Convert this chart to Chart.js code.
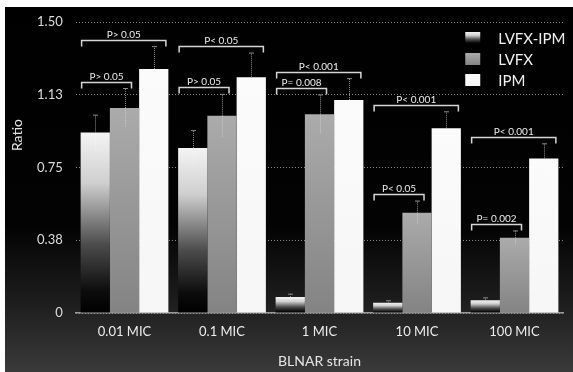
<!DOCTYPE html>
<html>
<head>
<meta charset="utf-8">
<script src="https://cdn.jsdelivr.net/npm/chart.js@4"></script>
<style>
  html, body { margin: 0; padding: 0; background: #fff; overflow: hidden; }
  canvas { display: block; }
</style>
</head>
<body>
<canvas id="c" width="573" height="372"></canvas>
<script>
// Categories and series
const categories = ['0.01 MIC', '0.1 MIC', '1 MIC', '10 MIC', '100 MIC'];
const seriesNames = ['LVFX-IPM', 'LVFX', 'IPM'];

// Mean ratio per concentration
const lvfxIpm = [0.93, 0.85, 0.082, 0.053, 0.066];
const lvfx    = [1.057, 1.017, 1.024, 0.517, 0.388];
const ipm     = [1.258, 1.215, 1.098, 0.952, 0.797];

// Error (upper whisker length) per bar
const lvfxIpmErr = [0.09, 0.09, 0.015, 0.01, 0.012];
const lvfxErr    = [0.10, 0.11, 0.10, 0.06, 0.035];
const ipmErr     = [0.115, 0.125, 0.11, 0.085, 0.075];

// Y axis ticks
const yTickValues = [0, 0.375, 0.75, 1.125, 1.5];
const yTickLabels = ['0', '0.38', '0.75', '1.13', '1.50'];

// Significance comparisons: LVFX-IPM against series index in comparisonTo
const comparisonCategory = [0, 0, 1, 1, 2, 2, 3, 3, 4, 4];
const comparisonTo       = [1, 2, 1, 2, 1, 2, 1, 2, 1, 2];
const comparisonLabels   = ['P> 0.05', 'P> 0.05', 'P> 0.05', 'P< 0.05', 'P= 0.008',
                            'P< 0.001', 'P< 0.05', 'P< 0.001', 'P= 0.002', 'P< 0.001'];

const FONT = 'Lato, "Open Sans", sans-serif';
const errors = [lvfxIpmErr, lvfxErr, ipmErr];

const fillStops = [
  [[0, '#f4f4f4'], [0.28, '#cfcfcf'], [0.62, '#4c4c4c'], [0.88, '#0c0c0c'], [1, '#000']],
  [[0, '#ababab'], [1, '#838383']],
  [[0, '#fbfbfb'], [1, '#f6f6f6']]
];

function gradientFor(ctx2d, idx, top, bottom) {
  const g = ctx2d.createLinearGradient(0, top, 0, Math.max(bottom, top + 1));
  fillStops[idx].forEach(([o, c]) => g.addColorStop(o, c));
  return g;
}

function barFill(idx) {
  return (ctx) => {
    const ch = ctx.chart;
    if (ctx.type !== 'data' || !ch.chartArea) return fillStops[idx][0][1];
    const y = ch.scales.y;
    return gradientFor(ch.ctx, idx, y.getPixelForValue(ctx.raw), y.getPixelForValue(0));
  };
}

// Panel background: white frame with dark gradient card
const backdrop = {
  id: 'backdrop',
  beforeDraw(chart) {
    const { ctx, width, height } = chart;
    ctx.save();
    ctx.fillStyle = '#ffffff';
    ctx.fillRect(0, 0, width, height);
    const g = ctx.createLinearGradient(0, 7, 0, height);
    g.addColorStop(0, '#000000');
    g.addColorStop(0.6, '#030303');
    g.addColorStop(0.8, '#1c1c1c');
    g.addColorStop(1, '#3a3a3a');
    ctx.fillStyle = g;
    ctx.fillRect(5, 7, width - 5, height - 7);
    ctx.restore();
  }
};

// Error whiskers
const whiskers = {
  id: 'whiskers',
  afterDatasetsDraw(chart) {
    const { ctx } = chart;
    const y = chart.scales.y;
    ctx.save();
    chart.data.datasets.forEach((ds, i) => {
      const meta = chart.getDatasetMeta(i);
      meta.data.forEach((bar, j) => {
        const v = ds.data[j], e = errors[i][j];
        const yTop = y.getPixelForValue(v + e);
        const yBar = y.getPixelForValue(v);
        const yLow = y.getPixelForValue(Math.max(0, v - e));
        const x = Math.round(bar.x) + 0.5;
        ctx.lineWidth = 1;
        ctx.setLineDash([1, 1]);
        ctx.strokeStyle = 'rgba(255,255,255,0.35)';
        ctx.beginPath(); ctx.moveTo(x, yBar); ctx.lineTo(x, yLow); ctx.stroke();
        ctx.strokeStyle = '#8e8e8e';
        ctx.beginPath(); ctx.moveTo(x, yBar); ctx.lineTo(x, yTop); ctx.stroke();
        ctx.setLineDash([]);
        ctx.beginPath(); ctx.moveTo(x - 2.5, yTop); ctx.lineTo(x + 2.5, yTop); ctx.stroke();
      });
    });
    ctx.restore();
  }
};

// Significance brackets with p-value labels
const brackets = {
  id: 'brackets',
  afterDatasetsDraw(chart) {
    const { ctx } = chart;
    const y = chart.scales.y;
    ctx.save();
    comparisonCategory.forEach((c, k) => {
      const b = comparisonTo[k];
      const bar0 = chart.getDatasetMeta(0).data[c];
      const barB = chart.getDatasetMeta(b).data[c];
      let top = Infinity;
      for (let s = 0; s <= b; s++) {
        const v = chart.data.datasets[s].data[c] + errors[s][c];
        top = Math.min(top, y.getPixelForValue(v));
      }
      top = Math.round(top - 7) + 0.5;
      const left = bar0.x - bar0.width / 2 + 1;
      const right = b === 1 ? barB.x + 7 : barB.x + barB.width / 2 - 2.5;
      ctx.strokeStyle = '#d6d6d6';
      ctx.lineWidth = 1.5;
      ctx.beginPath();
      ctx.moveTo(left, top + 6);
      ctx.lineTo(left, top);
      ctx.lineTo(right, top);
      ctx.lineTo(right, top + 6);
      ctx.stroke();
      ctx.fillStyle = '#eeeeee';
      ctx.font = '10px ' + FONT;
      ctx.textAlign = 'center';
      ctx.textBaseline = 'alphabetic';
      ctx.fillText(comparisonLabels[k], (left + right) / 2, top - 3);
    });
    ctx.restore();
  }
};

// Legend and y-axis title
const annotations = {
  id: 'annotations',
  afterDraw(chart) {
    const { ctx, chartArea } = chart;
    ctx.save();
    const bx = chartArea.right - 98;
    seriesNames.forEach((name, i) => {
      const by = 32 + i * 21;
      ctx.fillStyle = gradientFor(ctx, i, by, by + 12);
      ctx.fillRect(bx, by, 15, 12);
      ctx.fillStyle = '#f0f0f0';
      ctx.font = '15px ' + FONT;
      ctx.textAlign = 'left';
      ctx.textBaseline = 'middle';
      ctx.fillText(name, bx + 33, by + 7);
    });
    ctx.translate(17.5, 135);
    ctx.rotate(-Math.PI / 2);
    ctx.fillStyle = '#e6e6e6';
    ctx.font = '14px ' + FONT;
    ctx.textAlign = 'center';
    ctx.textBaseline = 'middle';
    ctx.fillText('Ratio', 0, 0);
    ctx.restore();
  }
};

new Chart(document.getElementById('c'), {
  type: 'bar',
  data: {
    labels: categories,
    datasets: [
      { label: seriesNames[0], data: lvfxIpm, backgroundColor: barFill(0), borderWidth: 0 },
      { label: seriesNames[1], data: lvfx,    backgroundColor: barFill(1), borderWidth: 0 },
      { label: seriesNames[2], data: ipm,     backgroundColor: barFill(2), borderWidth: 0 }
    ]
  },
  options: {
    responsive: false,
    animation: false,
    devicePixelRatio: 1,
    layout: { padding: { top: 22, right: 9.75, left: 0, bottom: 0 } },
    datasets: { bar: { categoryPercentage: 0.9, barPercentage: 1 } },
    plugins: { legend: { display: false }, tooltip: { enabled: false } },
    scales: {
      x: {
        grid: { drawOnChartArea: false, drawTicks: false },
        border: { display: true, color: '#9a9a9a', width: 1.5 },
        ticks: { color: '#ececec', font: { family: FONT, size: 13 }, padding: 11 },
        title: { display: true, text: 'BLNAR strain', color: '#e6e6e6',
                 font: { family: FONT, size: 14 }, padding: { top: 0, bottom: 2 } },
        afterFit: (s) => { s.height = 59; }
      },
      y: {
        min: 0,
        max: 1.5,
        grid: { color: '#8a8a8a', lineWidth: 1, drawTicks: false },
        border: { display: false, dash: [1, 2] },
        ticks: {
          color: '#dddddd',
          font: { family: FONT, size: 13 },
          padding: 13,
          callback: (v, i) => yTickLabels[i]
        },
        afterBuildTicks: (s) => { s.ticks = yTickValues.map(v => ({ value: v })); },
        afterFit: (s) => { s.width = 75.75; }
      }
    }
  },
  plugins: [backdrop, whiskers, brackets, annotations]
});
</script>
</body>
</html>
